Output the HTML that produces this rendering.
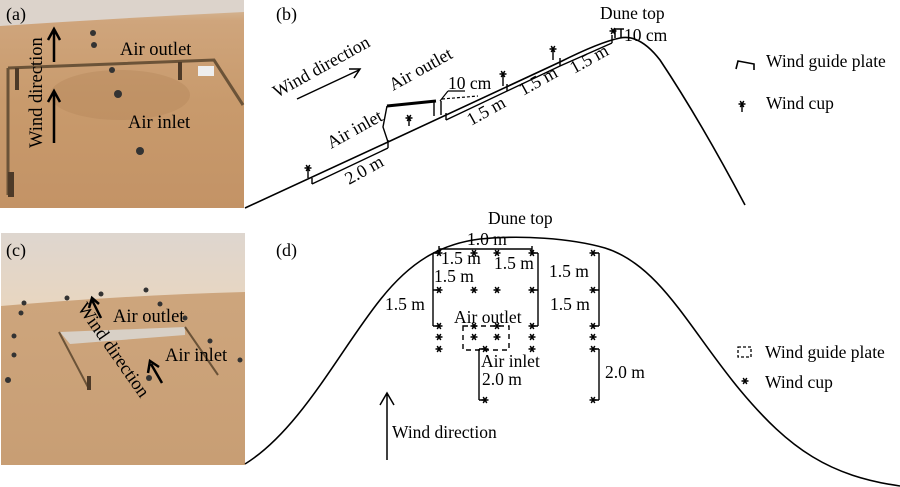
<!DOCTYPE html>
<html><head><meta charset="utf-8"><style>
html,body{margin:0;padding:0;background:#fff;}
svg{display:block;}
text{font-family:"Liberation Serif",serif;fill:#000;}
</style></head><body>
<svg width="900" height="487" viewBox="0 0 900 487" xmlns="http://www.w3.org/2000/svg">
<defs>
<linearGradient id="sa" x1="0" y1="0" x2="0" y2="1">
<stop offset="0" stop-color="#d8c2a6"/><stop offset="0.1" stop-color="#cfa57c"/><stop offset="0.5" stop-color="#c89a6c"/><stop offset="1" stop-color="#c39366"/></linearGradient>
<linearGradient id="sc" x1="0" y1="0" x2="0" y2="1">
<stop offset="0" stop-color="#ded6cf"/><stop offset="1" stop-color="#e8d6c0"/></linearGradient>
<linearGradient id="sd" x1="0" y1="0" x2="0" y2="1">
<stop offset="0" stop-color="#cfa880"/><stop offset="1" stop-color="#c89e74"/></linearGradient>
<g id="st" stroke="#000" stroke-width="1.5"><line x1="-3.5" y1="0" x2="3.5" y2="0"/><line x1="-1.8" y1="-3" x2="1.8" y2="3"/><line x1="1.8" y1="-3" x2="-1.8" y2="3"/></g>
</defs>
<!-- photo a -->
<rect x="0" y="0" width="244" height="208" fill="url(#sa)"/>
<path d="M0,0 H244 V12 Q120,18 0,26 Z" fill="#dcd3cb"/>
<ellipse cx="120" cy="95" rx="70" ry="25" fill="#b88a5e" opacity="0.5"/>
<path d="M8,68 L214,60 L243,105" stroke="#6b5338" stroke-width="3" fill="none"/>
<line x1="8" y1="68" x2="8" y2="195" stroke="#6b5338" stroke-width="3"/>
<rect x="8" y="172" width="6" height="25" fill="#4d3a28"/>
<rect x="15" y="68" width="4" height="22" fill="#4d3a28"/>
<rect x="178" y="62" width="4" height="18" fill="#4d3a28"/>
<rect x="198" y="66" width="16" height="10" fill="#eee"/>
<circle cx="93" cy="33" r="3" fill="#333"/><circle cx="94" cy="45" r="3" fill="#333"/><circle cx="118" cy="94" r="4" fill="#333"/><circle cx="140" cy="151" r="4" fill="#333"/><circle cx="112" cy="70" r="3" fill="#333"/>
<text x="6" y="20" font-size="18">(a)</text>
<text x="120" y="55" font-size="18.5">Air outlet</text>
<text x="128" y="128" font-size="18.5">Air inlet</text>
<text transform="translate(42,148) rotate(-90)" font-size="18.5">Wind direction</text>
<path d="M54,62 V31 M48,40 L54,29 L60,40" stroke="#000" stroke-width="2.5" fill="none"/>
<path d="M54,143 V93 M48,102 L54,91 L60,102" stroke="#000" stroke-width="2.5" fill="none"/>
<!-- photo c -->
<rect x="1" y="233" width="244" height="232" fill="url(#sd)"/>
<path d="M1,233 H245 V292 Q130,295 1,306 Z" fill="url(#sc)"/>
<polygon points="60,332 185,327 185,335 70,344" fill="#d8d0c6"/>
<path d="M59,332 L89,389 M185,327 L218,375" stroke="#6b5338" stroke-width="2" fill="none"/>
<rect x="87" y="376" width="4" height="14" fill="#4d3a28"/>
<g fill="#333"><circle cx="24" cy="303" r="2.5"/><circle cx="21" cy="313" r="2.5"/><circle cx="14" cy="336" r="2.5"/><circle cx="14" cy="355" r="2.5"/><circle cx="8" cy="380" r="3"/><circle cx="67" cy="298" r="2.5"/><circle cx="101" cy="294" r="2.5"/><circle cx="146" cy="290" r="2.5"/><circle cx="160" cy="304" r="2.5"/><circle cx="185" cy="318" r="2.5"/><circle cx="210" cy="341" r="2.5"/><circle cx="240" cy="360" r="2.5"/><circle cx="149" cy="378" r="3"/></g>
<text x="6" y="256" font-size="18">(c)</text>
<text x="113" y="322" font-size="18.5">Air outlet</text>
<text x="165" y="361" font-size="18.5">Air inlet</text>
<text transform="translate(77,308) rotate(55)" font-size="18.5">Wind direction</text>
<path d="M101,318 L92,300 M89,308 L92,298 L99,304" stroke="#000" stroke-width="2.5" fill="none"/>
<path d="M162,383 L151,364 M148,373 L150,361 L159,367" stroke="#000" stroke-width="2.5" fill="none"/>
<!-- panel b -->
<text x="276" y="20" font-size="18">(b)</text>
<path d="M245,208 L388,142 L560,62 Q600,42 620,38 Q640,34 660,60 Q700,120 745,205" stroke="#000" stroke-width="1.6" fill="none"/>
<path d="M312,184 L388,148 M312,184 V178 M388,148 V140" stroke="#000" stroke-width="1.4" fill="none"/>
<path d="M446,120 L560,66 L612,43 M446,120 V113 M507,91 V84 M560,66 V58 M612,43 V35" stroke="#000" stroke-width="1.4" fill="none"/>
<path d="M388,142 L383,127 L387,106" stroke="#000" stroke-width="1.4" fill="none"/>
<path d="M387,106 L436,101" stroke="#000" stroke-width="3" fill="none"/>
<path d="M434,101 L434,116 M441,101 L441,115" stroke="#000" stroke-width="1.4" fill="none"/>
<path d="M442,99 L478,96" stroke="#000" stroke-width="1.2" stroke-dasharray="3,2" fill="none"/>
<path d="M448,91 L465,91 M448,91 L440,101" stroke="#000" stroke-width="1.2" fill="none"/>
<path d="M615,29 L615,38 M621,29 L621,38 M614,29 L624,29" stroke="#000" stroke-width="1.5" fill="none"/>
<g stroke="#000" stroke-width="1.4">
<line x1="308" y1="168" x2="308" y2="178"/><use href="#st" x="308" y="168"/>
<line x1="409" y1="118" x2="409" y2="126"/><use href="#st" x="409" y="118"/>
<line x1="503" y1="74" x2="503" y2="86"/><use href="#st" x="503" y="74"/>
<line x1="553" y1="49" x2="553" y2="60"/><use href="#st" x="553" y="49"/>
<use href="#st" x="613" y="31"/>
</g>
<text transform="translate(277,98) rotate(-29)" font-size="18">Wind direction</text>
<path d="M297,99 L359,70 M349,69 L360,69 L354,78" stroke="#000" stroke-width="1.5" fill="none"/>
<text transform="translate(393,91) rotate(-29)" font-size="18">Air outlet</text>
<text transform="translate(331,149) rotate(-29)" font-size="18">Air inlet</text>
<text transform="translate(349,185) rotate(-29)" font-size="18">2.0 m</text>
<text transform="translate(471,126) rotate(-29)" font-size="18">1.5 m</text>
<text transform="translate(523,96) rotate(-29)" font-size="18">1.5 m</text>
<text transform="translate(574,74) rotate(-29)" font-size="18">1.5 m</text>
<text x="448" y="89" font-size="17.5">10 cm</text>
<text x="600" y="19" font-size="17.5">Dune top</text>
<text x="624" y="41" font-size="17.5">10 cm</text>
<path d="M736,69 L738,61 L754,64 L754,70" stroke="#000" stroke-width="1.6" fill="none"/>
<text x="766" y="67" font-size="17.5">Wind guide plate</text>
<line x1="742" y1="104" x2="742" y2="112" stroke="#000" stroke-width="1.4"/><use href="#st" x="742" y="104"/>
<text x="766" y="109" font-size="17.5">Wind cup</text>
<!-- panel d -->
<text x="276" y="256" font-size="18">(d)</text>
<path d="M245,464 C300,430 340,350 380,300 C410,262 440,244 480,239 C520,235 570,238 605,248 C660,265 690,330 740,390 C790,450 830,476 900,486" stroke="#000" stroke-width="1.6" fill="none"/>
<g stroke="#000" stroke-width="1.4" fill="none">
<path d="M439,249 H532 M439,246 V252 M532,246 V252"/>
<path d="M433,253 V326 M433,253 H438 M433,290 H438 M433,326 H438"/>
<path d="M538,253 V326 M538,253 H533 M538,290 H533 M538,326 H533"/>
<path d="M599,253 V326 M599,253 H594 M599,290 H594 M599,326 H594"/>
<path d="M599,349 V400 M599,349 H594 M599,400 H594"/>
<path d="M479,349 V400 M479,349 H484 M479,400 H484"/>
<rect x="463" y="326" width="46" height="24" stroke-dasharray="5,4"/>
</g>
<g>
<use href="#st" x="439" y="253"/><use href="#st" x="474" y="253"/><use href="#st" x="497" y="253"/><use href="#st" x="532" y="253"/><use href="#st" x="593" y="253"/>
<use href="#st" x="439" y="290"/><use href="#st" x="474" y="290"/><use href="#st" x="497" y="290"/><use href="#st" x="532" y="290"/><use href="#st" x="593" y="290"/>
<use href="#st" x="439" y="326"/><use href="#st" x="474" y="326"/><use href="#st" x="497" y="326"/><use href="#st" x="532" y="326"/><use href="#st" x="593" y="326"/>
<use href="#st" x="439" y="337"/><use href="#st" x="474" y="337"/><use href="#st" x="497" y="337"/><use href="#st" x="532" y="337"/><use href="#st" x="593" y="337"/>
<use href="#st" x="439" y="349"/><use href="#st" x="485" y="349"/><use href="#st" x="532" y="349"/><use href="#st" x="593" y="349"/>
<use href="#st" x="485" y="400"/><use href="#st" x="593" y="400"/>
</g>
<text x="488" y="224" font-size="17.5">Dune top</text>
<text x="467" y="245" font-size="17.5">1.0 m</text>
<text x="441" y="264" font-size="17.5">1.5 m</text>
<text x="494" y="269" font-size="17.5">1.5 m</text>
<text x="434" y="282" font-size="17.5">1.5 m</text>
<text x="549" y="277" font-size="17.5">1.5 m</text>
<text x="385" y="310" font-size="17.5">1.5 m</text>
<text x="550" y="310" font-size="17.5">1.5 m</text>
<text x="454" y="323" font-size="17.5">Air outlet</text>
<text x="481" y="367" font-size="17.5">Air inlet</text>
<text x="482" y="385" font-size="17.5">2.0 m</text>
<text x="605" y="378" font-size="17.5">2.0 m</text>
<path d="M387,460 V394 M380,405 L387,393 L394,405" stroke="#000" stroke-width="1.5" fill="none"/>
<text x="392" y="438" font-size="17.5">Wind direction</text>
<rect x="738" y="347" width="13" height="10" stroke="#000" stroke-width="1.3" fill="none" stroke-dasharray="3,2"/>
<text x="765" y="358" font-size="17.5">Wind guide plate</text>
<use href="#st" x="745" y="381"/>
<text x="765" y="388" font-size="17.5">Wind cup</text>
</svg>
</body></html>
